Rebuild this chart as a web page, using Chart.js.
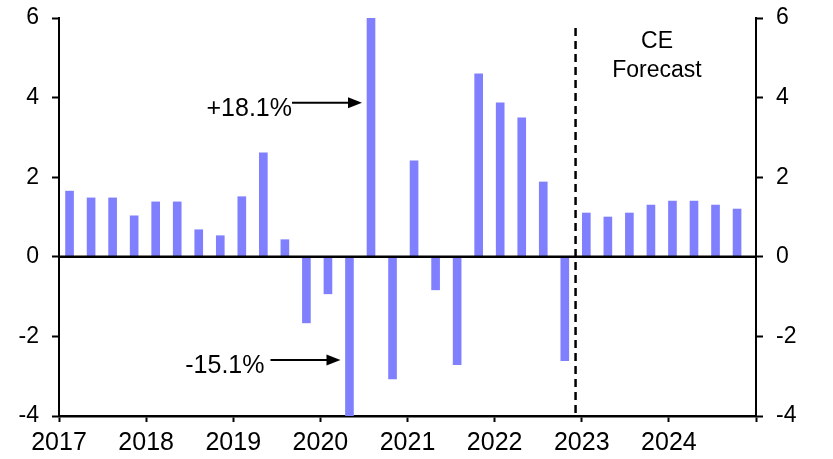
<!DOCTYPE html>
<html><head><meta charset="utf-8">
<script src="https://cdn.jsdelivr.net/npm/chart.js@4.4.1/dist/chart.umd.min.js"></script>
<style>html,body{margin:0;padding:0;background:#fff;overflow:hidden;}</style>
</head><body>
<canvas id="c" width="833" height="459"></canvas>
<script>
// ---- data ----
const quarters = [
  '2017 Q1','2017 Q2','2017 Q3','2017 Q4',
  '2018 Q1','2018 Q2','2018 Q3','2018 Q4',
  '2019 Q1','2019 Q2','2019 Q3','2019 Q4',
  '2020 Q1','2020 Q2','2020 Q3','2020 Q4',
  '2021 Q1','2021 Q2','2021 Q3','2021 Q4',
  '2022 Q1','2022 Q2','2022 Q3','2022 Q4',
  '2023 Q1','2023 Q2','2023 Q3','2023 Q4',
  '2024 Q1','2024 Q2','2024 Q3','2024 Q4'
];
const growth = [
  1.65, 1.48, 1.48, 1.03,
  1.38, 1.38, 0.68, 0.53,
  1.51, 2.61, 0.43, -1.66,
  -0.93, -15.1, 18.1, -3.07,
  2.41, -0.83, -2.71, 4.6,
  3.87, 3.49, 1.88, -2.61,
  1.1, 1.0, 1.1, 1.3,
  1.4, 1.4, 1.3, 1.2
];
const firstForecast = '2023 Q1';
const yearTicks = [2017, 2018, 2019, 2020, 2021, 2022, 2023, 2024, 2025];
const yMin = -4, yMax = 6, yStep = 2;
const forecastLabel = ['CE', 'Forecast'];

const barColor = '#8080FF';
const FONT = "'Liberation Sans', Arial, sans-serif";

const barData = growth.map((v, i) => ({ x: i, y: v }));

const overlay = {
  id: 'overlay',
  afterDatasetsDraw(chart) {
    const { ctx, chartArea: ca, scales } = chart;
    const xq = scales.xq, y = scales.y;
    ctx.save();
    // zero line
    const y0 = y.getPixelForValue(0);
    ctx.strokeStyle = '#000';
    ctx.lineWidth = 2.5;
    ctx.beginPath(); ctx.moveTo(ca.left, y0); ctx.lineTo(ca.right, y0); ctx.stroke();
    // forecast divider
    const fi = quarters.indexOf(firstForecast);
    const xd = xq.getPixelForValue(fi - 0.5);
    ctx.setLineDash([8, 5]);
    ctx.lineWidth = 2.5;
    ctx.beginPath(); ctx.moveTo(xd, ca.top + 10); ctx.lineTo(xd, ca.bottom); ctx.stroke();
    ctx.setLineDash([]);
    // CE Forecast text
    ctx.fillStyle = '#000';
    ctx.font = '23px ' + FONT;
    ctx.textAlign = 'center';
    ctx.textBaseline = 'alphabetic';
    const cx = ca.right - 99;
    ctx.fillText(forecastLabel[0], cx, ca.top + 30);
    ctx.fillText(forecastLabel[1], cx, ca.top + 59);
    // annotations for off-scale bars
    const fmt = v => (v > 0 ? '+' : '') + v.toFixed(1) + '%';
    const ann = [];
    growth.forEach((v, i) => {
      if (v > yMax) ann.push({ i, v, ay: 3.87, gap: 0 });
      if (v < yMin) ann.push({ i, v, ay: -2.59, gap: 6 });
    });
    ctx.font = '25px ' + FONT;
    ctx.textAlign = 'right';
    ann.forEach(a => {
      const tipX = xq.getPixelForValue(a.i) - 4 - 5;
      const ayp = y.getPixelForValue(a.ay);
      const startX = tipX - 70;
      ctx.lineWidth = 2;
      ctx.beginPath(); ctx.moveTo(startX, ayp); ctx.lineTo(tipX - 12, ayp); ctx.stroke();
      ctx.beginPath();
      ctx.moveTo(tipX, ayp); ctx.lineTo(tipX - 14, ayp - 5.5); ctx.lineTo(tipX - 14, ayp + 5.5);
      ctx.closePath(); ctx.fill();
      ctx.fillText(fmt(a.v), startX - a.gap, ayp + 13);
    });
    ctx.restore();
  }
};

const yAxisCommon = {
  type: 'linear', min: yMin, max: yMax,
  grid: { display: true, drawOnChartArea: false, drawTicks: true, tickLength: 7, tickColor: '#000', tickWidth: 2 },
  border: { display: true, color: '#000', width: 2 },
  ticks: { stepSize: yStep, color: '#000', padding: 13, font: { size: 23, family: FONT } }
};
const fitY = w => s => { s.width = w; s.paddingTop = 0; s.paddingBottom = 0; };

new Chart(document.getElementById('c'), {
  type: 'bar',
  data: {
    datasets: [{
      data: barData,
      backgroundColor: barColor,
      borderWidth: 0,
      barThickness: 8,
      xAxisID: 'xq',
      yAxisID: 'y'
    }]
  },
  options: {
    responsive: false,
    animation: false,
    layout: { padding: { top: 18, left: 0, right: 0, bottom: 0 } },
    plugins: { legend: { display: false }, tooltip: { enabled: false } },
    scales: {
      xq: {
        type: 'linear', position: 'bottom', display: false,
        min: -0.49, max: 31.88, offset: false, grid: { offset: false }
      },
      x: {
        type: 'linear', position: 'bottom',
        min: yearTicks[0], max: yearTicks[yearTicks.length - 1], offset: false,
        afterBuildTicks: s => { s.ticks = yearTicks.map(v => ({ value: v })); },
        afterFit: s => { s.height = 43; s.paddingLeft = 0; s.paddingRight = 0; },
        grid: { offset: false, display: true, drawOnChartArea: false, drawTicks: true, tickLength: 6, tickColor: '#000', tickWidth: 2 },
        border: { display: true, color: '#000', width: 2.5 },
        ticks: {
          color: '#000', padding: 6, maxRotation: 0, autoSkip: false,
          font: { size: 25, family: FONT },
          callback: v => (v === yearTicks[yearTicks.length - 1] ? '' : String(v))
        }
      },
      y: Object.assign({}, yAxisCommon, { position: 'left', afterFit: fitY(59) }),
      y2: Object.assign({}, yAxisCommon, { position: 'right', afterFit: fitY(77) })
    }
  },
  plugins: [overlay]
});
</script>
</body></html>
